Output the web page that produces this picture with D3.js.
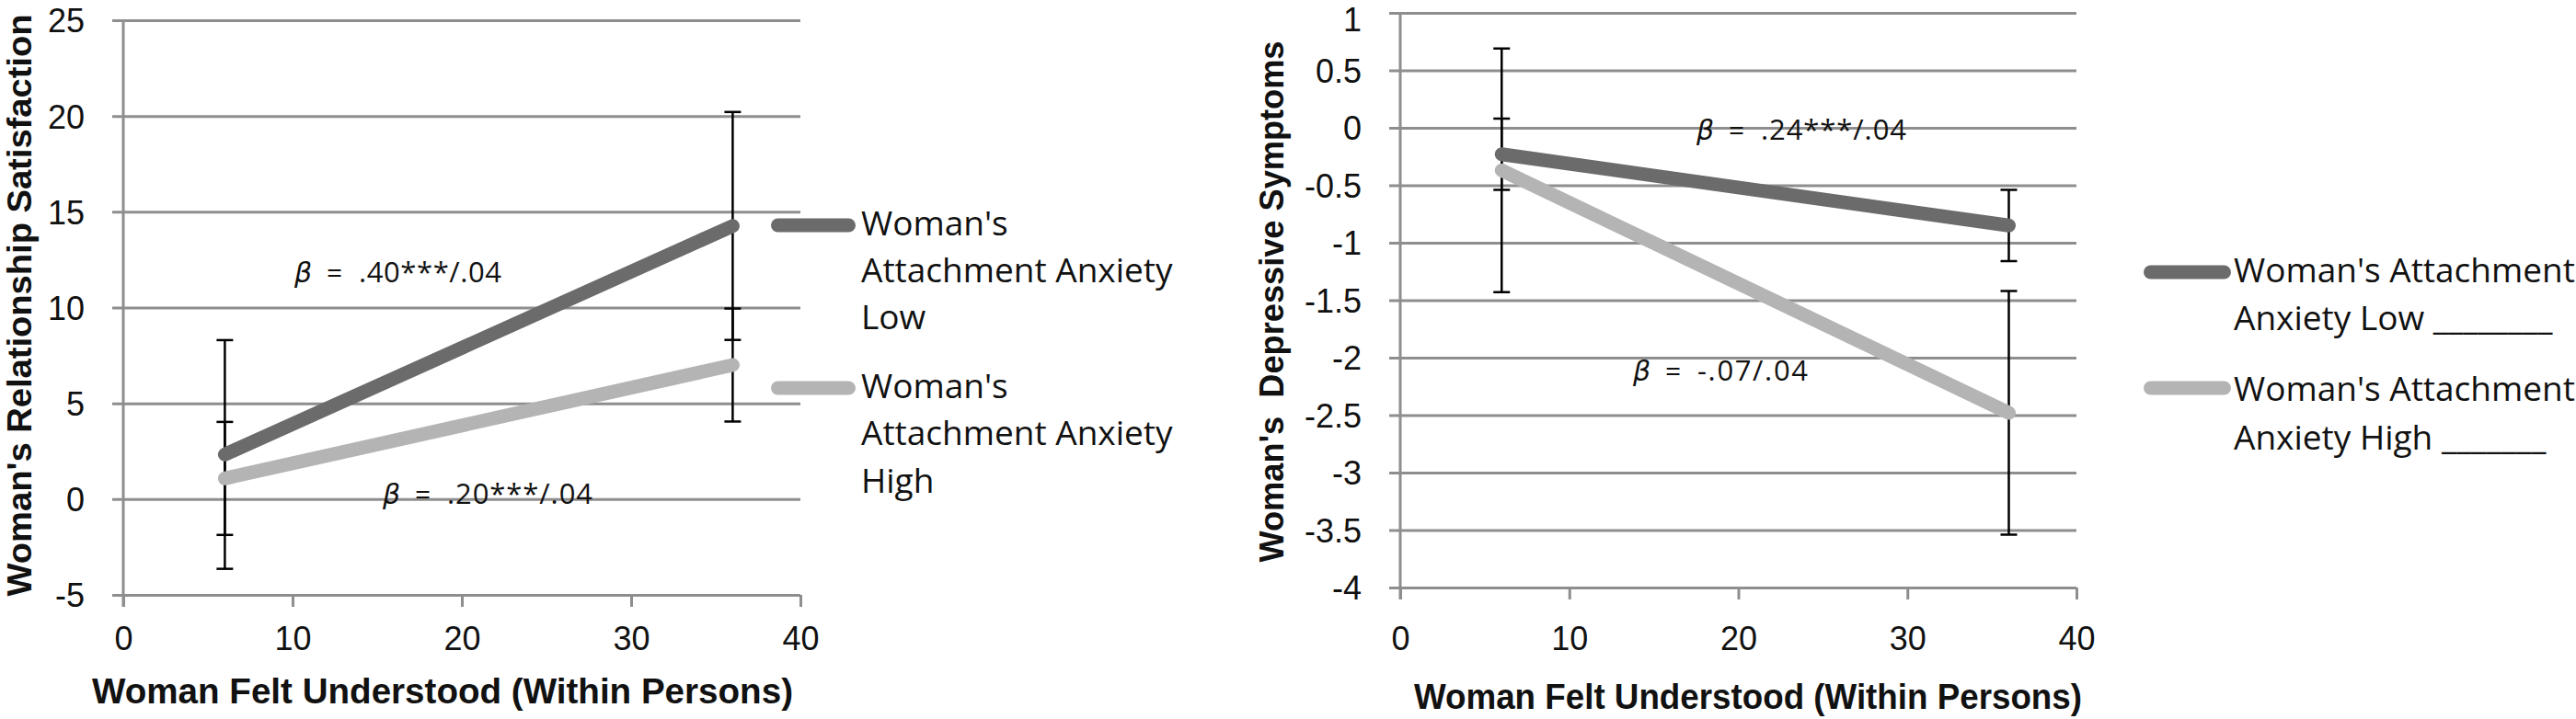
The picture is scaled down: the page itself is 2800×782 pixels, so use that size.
<!DOCTYPE html>
<html><head><meta charset="utf-8">
<script src="https://cdn.jsdelivr.net/npm/d3@7"></script>
<style>
body{margin:0;background:#fff}
svg{display:block;font-family:"Open Sans",sans-serif}
</style>
</head><body>
<svg id="c" width="2800" height="782"></svg>
<script>
// ---------------- data ----------------
const xValues = [6, 36];
const xTicks = [0, 10, 20, 30, 40];

// left panel: relationship satisfaction
const satTicks = [-5, 0, 5, 10, 15, 20, 25];
const satLow = [2.33, 14.26];
const satLowErr = [5.97, 5.95];
const satHigh = [1.08, 7.0];
const satHighErr = [2.95, 2.95];

// right panel: depressive symptoms
const depTicks = [-4, -3.5, -3, -2.5, -2, -1.5, -1, -0.5, 0, 0.5, 1];
const depLow = [-0.23, -0.85];
const depLowErr = [0.31, 0.31];
const depHigh = [-0.37, -2.48];
const depHighErr = [1.06, 1.06];

const legendLeft = [["Woman's", "Attachment Anxiety", "Low"], ["Woman's", "Attachment Anxiety", "High"]];
const legendRight = [["Woman's Attachment", "Anxiety Low ________"], ["Woman's Attachment", "Anxiety High _______"]];
const xTitle = "Woman Felt Understood (Within Persons)";
const yTitleLeft = "Woman's Relationship Satisfaction";
const yTitleRight = "Woman's  Depressive Symptoms";
const betaLeft = [".40***/.04", ".20***/.04"];
const betaRight = [".24***/.04", "-.07/.04"];

// ---------------- style ----------------
const DARK = "#6b6b6b", LIGHT = "#b4b4b4", GRID = "#8e8e8e";
const TICKFONT = "Liberation Sans", TITLEFONT = "Liberation Sans";
const svg = d3.select("#c");

function panel(cfg) {
  const g = svg.append("g");
  const x = d3.scaleLinear().domain([0, 40]).range([cfg.x0, cfg.x1]);
  const y = d3.scaleLinear().domain(cfg.yDomain).range([cfg.yBottom, cfg.yTop]);
  const axisY = y(cfg.yDomain[0]);

  // y axis with gridlines
  const ya = g.append("g").attr("transform", `translate(${cfg.x0},0)`)
    .call(d3.axisLeft(y).tickValues(cfg.yTicks).tickFormat(d => String(d))
      .tickSizeInner(-(cfg.x1 - cfg.x0)).tickSizeOuter(0).tickPadding(42));
  ya.select(".domain").remove();
  ya.selectAll(".tick line").attr("x1", -12).attr("x2", cfg.x1 - cfg.x0)
    .attr("stroke", GRID).attr("stroke-width", 3);
  ya.selectAll(".tick text").attr("font-family", TICKFONT).attr("font-size", 36)
    .attr("fill", "#111").attr("dy", "0.36em");
  // keep a label that sits at the very top inside the picture
  ya.selectAll(".tick text").filter(d => y(d) < 20).attr("dy", d => 33.5 - y(d));

  // x axis
  const xa = g.append("g").attr("transform", `translate(0,${axisY})`)
    .call(d3.axisBottom(x).tickValues(xTicks).tickSizeInner(13).tickSizeOuter(0));
  xa.select(".domain").remove();
  xa.selectAll(".tick line").attr("stroke", GRID).attr("stroke-width", 3);
  xa.selectAll(".tick text").attr("font-family", TICKFONT).attr("font-size", 36)
    .attr("fill", "#111").attr("dy", 0).attr("y", 707 - axisY);

  // vertical axis line
  g.append("line").attr("x1", cfg.x0).attr("x2", cfg.x0)
    .attr("y1", y(cfg.yDomain[1])).attr("y2", axisY + 13)
    .attr("stroke", GRID).attr("stroke-width", 3);

  // error bars
  const series = [
    {vals: cfg.low, err: cfg.lowErr, color: DARK},
    {vals: cfg.high, err: cfg.highErr, color: LIGHT}
  ];
  series.forEach(s => {
    s.vals.forEach((v, i) => {
      const cx = x(xValues[i]);
      g.append("line").attr("x1", cx).attr("x2", cx)
        .attr("y1", y(v + s.err[i])).attr("y2", y(v - s.err[i]))
        .attr("stroke", "#000").attr("stroke-width", 2.5);
      [v + s.err[i], v - s.err[i]].forEach(e => {
        g.append("line").attr("x1", cx - 9).attr("x2", cx + 9)
          .attr("y1", y(e)).attr("y2", y(e))
          .attr("stroke", "#000").attr("stroke-width", 2.5);
      });
    });
  });

  // lines (light first, dark on top)
  const lineGen = d3.line().x((d, i) => x(xValues[i])).y(d => y(d));
  [series[1], series[0]].forEach(s => {
    g.append("path").attr("d", lineGen(s.vals)).attr("fill", "none")
      .attr("stroke", s.color).attr("stroke-width", 15).attr("stroke-linecap", "round");
  });

  // beta annotations
  cfg.betas.forEach(b => {
    g.append("text").attr("x", b.x).attr("y", b.y)
      .attr("font-family", "DejaVu Sans").attr("font-style", "italic")
      .attr("font-size", 30).attr("fill", "#111").text("β");
    g.append("text").attr("x", b.x + 35).attr("y", b.y)
      .attr("font-family", "Open Sans").attr("font-size", 30).attr("fill", "#111").text("=");
    g.append("text").attr("x", b.x + 70).attr("y", b.y)
      .attr("font-family", "Open Sans").attr("font-size", 31).attr("fill", "#111")
      .attr("textLength", b.w).attr("lengthAdjust", "spacing").text(b.text);
  });

  // x title
  g.append("text").attr("x", cfg.xt.x).attr("y", cfg.xt.y)
    .attr("font-family", TITLEFONT).attr("font-weight", "bold").attr("font-size", 38)
    .attr("fill", "#111").attr("textLength", cfg.xt.w).attr("lengthAdjust", "spacingAndGlyphs")
    .text(xTitle);

  // y title
  g.append("text")
    .attr("transform", `translate(${cfg.yt.x},${cfg.yt.cy}) rotate(-90)`)
    .attr("text-anchor", "middle").style("white-space", "pre")
    .attr("font-family", TITLEFONT).attr("font-weight", "bold").attr("font-size", 37)
    .attr("fill", "#111").attr("textLength", cfg.yt.w).attr("lengthAdjust", "spacingAndGlyphs")
    .text(cfg.yTitle);

  // legend
  cfg.legend.lines.forEach((lines, k) => {
    const L = cfg.legend.items[k];
    g.append("line").attr("x1", cfg.legend.lx0).attr("x2", cfg.legend.lx1)
      .attr("y1", L.ly).attr("y2", L.ly)
      .attr("stroke", k === 0 ? DARK : LIGHT).attr("stroke-width", 15).attr("stroke-linecap", "round");
    lines.forEach((txt, j) => {
      g.append("text").attr("x", cfg.legend.tx).attr("y", L.base[j])
        .attr("font-family", "Open Sans").attr("font-size", 37).attr("fill", "#111")
        .style("white-space", "pre").text(txt);
    });
  });
}

panel({
  x0: 134, x1: 870, yDomain: [-5, 25], yBottom: 647, yTop: 22, yTicks: satTicks,
  low: satLow, lowErr: satLowErr, high: satHigh, highErr: satHighErr,
  betas: [{text: betaLeft[0], x: 320, y: 307, w: 155}, {text: betaLeft[1], x: 416, y: 548, w: 158}],
  xt: {x: 100, y: 765, w: 762},
  yt: {x: 34, cy: 332, w: 633}, yTitle: yTitleLeft,
  legend: {lx0: 845.5, lx1: 922.5, tx: 936, lines: legendLeft,
    items: [{ly: 245, base: [256, 307, 358]}, {ly: 422, base: [433, 484, 536]}]}
});

panel({
  x0: 1522, x1: 2257, yDomain: [-4, 1], yBottom: 639, yTop: 14, yTicks: depTicks,
  low: depLow, lowErr: depLowErr, high: depHigh, highErr: depHighErr,
  betas: [{text: betaRight[0], x: 1844, y: 152, w: 158}, {text: betaRight[1], x: 1775, y: 414, w: 120}],
  xt: {x: 1537, y: 771, w: 726},
  yt: {x: 1395, cy: 328, w: 567}, yTitle: yTitleRight,
  legend: {lx0: 2337.5, lx1: 2417.5, tx: 2428, lines: legendRight,
    items: [{ly: 296, base: [307, 359]}, {ly: 422, base: [436, 489]}]}
});
</script>
</body></html>
